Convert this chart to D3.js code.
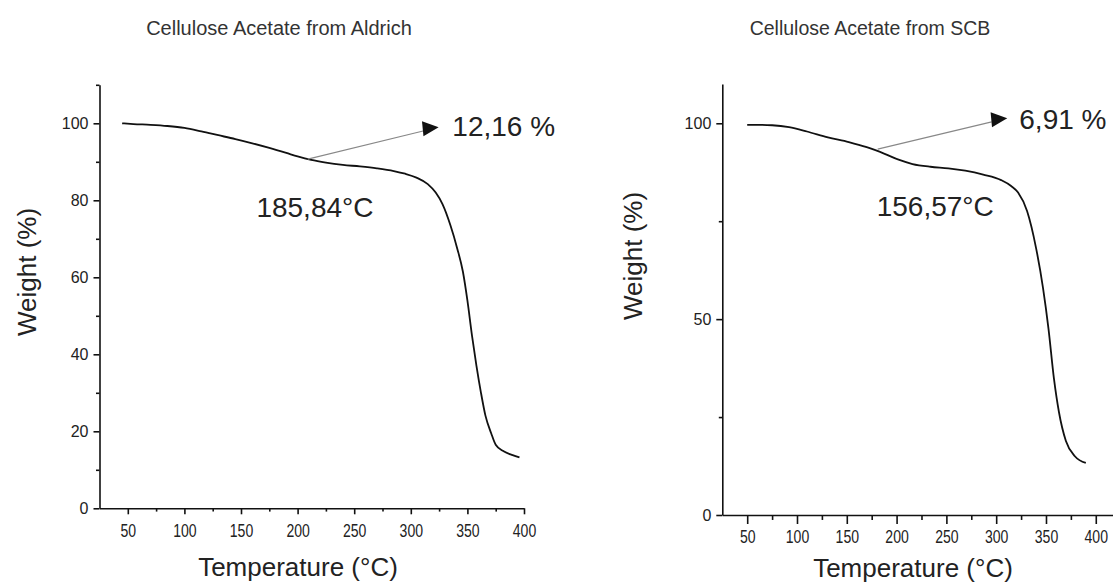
<!DOCTYPE html>
<html>
<head>
<meta charset="utf-8">
<script src="https://cdn.jsdelivr.net/npm/d3@7"></script>
<style>
  html, body { margin: 0; padding: 0; background: #fff; }
  svg { display: block; font-family: "Liberation Sans", Arial, sans-serif; }
</style>
</head>
<body>
<script>
// TGA curves (temperature °C, weight %)
const tempAldrich = [45, 55, 70, 85, 100, 115, 130, 145, 160, 175, 190, 200, 212, 225, 240, 255, 270, 285, 295, 305, 315, 322, 328, 335, 341, 346, 350, 354, 358, 362, 366, 371, 375, 382, 390, 396];
const weightAldrich = [100.0, 99.8, 99.6, 99.3, 98.8, 97.9, 96.9, 95.9, 94.8, 93.6, 92.3, 91.4, 90.5, 89.8, 89.2, 88.8, 88.3, 87.6, 86.9, 85.9, 84.2, 82.0, 79.0, 73.5, 67.5, 61.5, 54.0, 45.0, 37.0, 30.0, 24.0, 19.5, 16.5, 14.8, 13.8, 13.2];

const tempSCB = [50, 62, 75, 92, 110, 131, 152, 170, 188, 202, 216, 234, 252, 269, 287, 305, 315, 322, 331, 340, 347, 352.5, 358, 363, 370, 379, 390];
const weightSCB = [99.6, 99.6, 99.5, 99.0, 97.9, 96.4, 95.2, 93.9, 92.2, 90.7, 89.6, 88.9, 88.5, 87.9, 86.9, 85.5, 84.0, 82.3, 77.6, 68.2, 58.0, 47.6, 34.8, 26.3, 18.9, 15.0, 13.3];

const xTicks = [50, 100, 150, 200, 250, 300, 350, 400];
const xMinorTicks = [75, 125, 175, 225, 275, 325, 375];
const yTicksAldrich = [0, 20, 40, 60, 80, 100];
const yMinorAldrich = [10, 30, 50, 70, 90, 110];
const yTicksSCB = [0, 50, 100];
const yMinorSCB = [25, 75];

// annotations: [temp, weight] in data units
const titles = ['Cellulose Acetate from Aldrich', 'Cellulose Acetate from SCB'];
const lossLabels = ['12,16 %', '6,91 %'];
const onsetLabels = ['185,84°C', '156,57°C'];
const arrowFrom = [[209, 90.7], [181, 93.4]];
const arrowTo = [[324.6, 99.0], [311.1, 101.3]];
const lossPos = [[336.7, 96.7], [323.2, 98.5]];
const onsetPos = [[163.6, 75.7], [180, 76.3]];

const svg = d3.select('body').append('svg')
  .attr('width', 1113)
  .attr('height', 586);

const panels = [
  {
    temp: tempAldrich, weight: weightAldrich,
    xDomain: [25, 400], xRange: [99.5, 524],
    yDomain: [0, 110], yRange: [508.3, 84.8],
    yTicks: yTicksAldrich, yMinor: yMinorAldrich,
    xTickLen: 6, xLabelY: 15,
    titleX: 279, titleY: 35, titleSize: 20,
    xTitleX: 298, xTitleY: 576,
    yTitleX: 36, yTitleY: 272
  },
  {
    temp: tempSCB, weight: weightSCB,
    xDomain: [25, 420], xRange: [722.3, 1115.7],
    yDomain: [0, 110], yRange: [515, 84.1],
    yTicks: yTicksSCB, yMinor: yMinorSCB,
    xTickLen: 9, xLabelY: 15,
    titleX: 870, titleY: 35, titleSize: 19.5,
    xTitleX: 913, xTitleY: 577,
    yTitleX: 642, yTitleY: 256
  }
];

panels.forEach((p, i) => {
  const x = d3.scaleLinear().domain(p.xDomain).range(p.xRange);
  const y = d3.scaleLinear().domain(p.yDomain).range(p.yRange);
  const g = svg.append('g');

  /** x axis, major + minor ticks */
  const xAxis = g.append('g')
    .attr('transform', `translate(0,${y(0)})`)
    .call(d3.axisBottom(x).tickValues(xTicks).tickSize(p.xTickLen).tickSizeOuter(0));
  xAxis.selectAll('text')
    .attr('y', p.xLabelY)
    .attr('font-size', 19)
    .attr('transform', 'scale(0.74,1)')
    .attr('fill', '#222');
  g.append('g')
    .attr('transform', `translate(0,${y(0)})`)
    .call(d3.axisBottom(x).tickValues(xMinorTicks).tickSize(p.xTickLen * 0.55).tickFormat('').tickSizeOuter(0))
    .select('.domain').remove();

  /** y axis */
  const yAxis = g.append('g')
    .attr('transform', `translate(${x(p.xDomain[0])},0)`)
    .call(d3.axisLeft(y).tickValues(p.yTicks).tickSize(6).tickPadding(5).tickSizeOuter(0));
  yAxis.selectAll('text')
    .attr('font-size', 16)
    .attr('fill', '#222');
  g.append('g')
    .attr('transform', `translate(${x(p.xDomain[0])},0)`)
    .call(d3.axisLeft(y).tickValues(p.yMinor).tickSize(3.5).tickFormat('').tickSizeOuter(0))
    .select('.domain').remove();

  g.selectAll('.domain, .tick line')
    .attr('stroke', '#111')
    .attr('stroke-width', 1.6);

  /** curve */
  const pts = p.temp.map((t, k) => [t, p.weight[k]]);
  g.append('path')
    .datum(pts)
    .attr('fill', 'none')
    .attr('stroke', '#111')
    .attr('stroke-width', 1.8)
    .attr('d', d3.line().x(d => x(d[0])).y(d => y(d[1])).curve(d3.curveMonotoneX));

  /** arrow from curve to loss label */
  const x1 = x(arrowFrom[i][0]), y1 = y(arrowFrom[i][1]);
  const x2 = x(arrowTo[i][0]), y2 = y(arrowTo[i][1]);
  const ang = Math.atan2(y2 - y1, x2 - x1) * 180 / Math.PI;
  const headLen = 16;
  const len = Math.hypot(x2 - x1, y2 - y1);
  g.append('line')
    .attr('x1', x1).attr('y1', y1)
    .attr('x2', x1 + (x2 - x1) * (len - headLen) / len)
    .attr('y2', y1 + (y2 - y1) * (len - headLen) / len)
    .attr('stroke', '#888')
    .attr('stroke-width', 1.1);
  g.append('path')
    .attr('d', `M0,0L${-headLen},-7.5L${-headLen},7.5Z`)
    .attr('transform', `translate(${x2},${y2}) rotate(${ang + 8})`)
    .attr('fill', '#111');

  g.append('text')
    .attr('x', x(lossPos[i][0])).attr('y', y(lossPos[i][1]))
    .attr('font-size', 28).attr('fill', '#222')
    .text(lossLabels[i]);
  g.append('text')
    .attr('x', x(onsetPos[i][0])).attr('y', y(onsetPos[i][1]))
    .attr('font-size', 28).attr('fill', '#222')
    .text(onsetLabels[i]);

  /** titles */
  g.append('text')
    .attr('x', p.titleX).attr('y', p.titleY)
    .attr('text-anchor', 'middle')
    .attr('font-size', p.titleSize).attr('fill', '#333')
    .text(titles[i]);
  g.append('text')
    .attr('x', p.xTitleX).attr('y', p.xTitleY)
    .attr('text-anchor', 'middle')
    .attr('font-size', 26).attr('fill', '#222')
    .text('Temperature (°C)');
  g.append('text')
    .attr('transform', `translate(${p.yTitleX},${p.yTitleY}) rotate(-90)`)
    .attr('text-anchor', 'middle')
    .attr('font-size', 26).attr('fill', '#222')
    .text('Weight (%)');
});
</script>
</body>
</html>
